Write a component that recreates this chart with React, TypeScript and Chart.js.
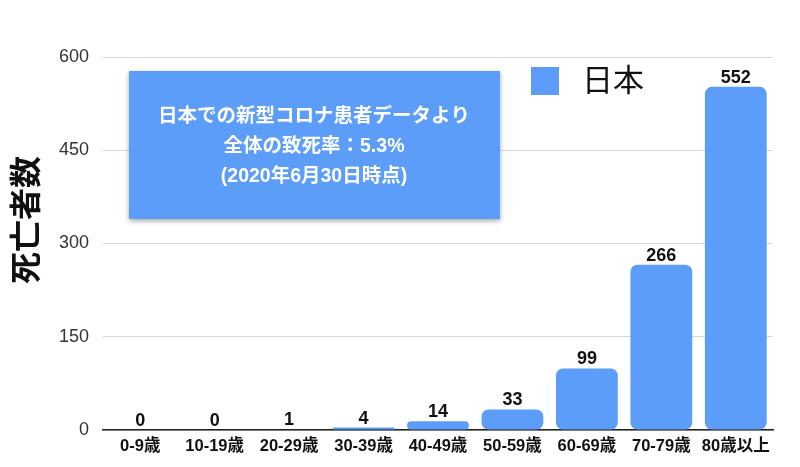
import React, { useEffect, useRef } from "react"
import { Chart, ChartConfiguration, Plugin, registerables } from "chart.js"

Chart.register(...registerables)

const categories = ["0-9歳", "10-19歳", "20-29歳", "30-39歳", "40-49歳", "50-59歳", "60-69歳", "70-79歳", "80歳以上"]
const deaths = [0, 0, 1, 4, 14, 33, 99, 266, 552]
const yTicks = [0, 150, 300, 450, 600]
const seriesName = "日本"
const yTitle = "死亡者数"
const noteLines = ["日本での新型コロナ患者データより", "全体の致死率：5.3%", "(2020年6月30日時点)"]

const BLUE = "#5b9df8"
const FONT = '"Liberation Sans", "Noto Sans CJK JP", sans-serif'

// value labels, legend, note box and y title
const extras: Plugin<"bar"> = {
	id: "extras",
	afterDatasetsDraw(chart) {
		const ctx = chart.ctx
		const meta = chart.getDatasetMeta(0)
		ctx.save()
		ctx.fillStyle = "#111"
		ctx.font = `bold 18px ${FONT}`
		ctx.textAlign = "center"
		ctx.textBaseline = "alphabetic"
		meta.data.forEach((bar, i) => {
			ctx.fillText(String(deaths[i]), bar.x, bar.y - 4)
		})

		// note box
		ctx.shadowColor = "rgba(0,0,0,0.35)"
		ctx.shadowBlur = 5
		ctx.shadowOffsetY = 2
		ctx.fillStyle = BLUE
		ctx.fillRect(129, 71, 371, 148)
		ctx.shadowColor = "transparent"
		ctx.fillStyle = "#fff"
		ctx.font = `bold 19.5px ${FONT}`
		ctx.textBaseline = "middle"
		noteLines.forEach((t, i) => ctx.fillText(t, 314, 117 + i * 30))

		// legend
		ctx.fillStyle = BLUE
		ctx.fillRect(531, 67, 28, 28)
		ctx.fillStyle = "#111"
		ctx.font = `31px ${FONT}`
		ctx.textAlign = "left"
		ctx.fillText(seriesName, 582, 82)

		// y title
		ctx.translate(28, 220)
		ctx.rotate(-Math.PI / 2)
		ctx.textAlign = "center"
		ctx.font = `bold 32px ${FONT}`
		ctx.fillText(yTitle, 0, 0)
		ctx.restore()
	},
}

export default function App() {
	const chartRef = useRef<HTMLCanvasElement | null>(null)
	const chartInstance = useRef<Chart | null>(null)

	useEffect(() => {
		document.body.style.margin = "0"
		if (chartInstance.current) chartInstance.current.destroy()
		if (!chartRef.current) return

		const config: ChartConfiguration<"bar"> = {
			type: "bar",
			data: {
				labels: categories,
				datasets: [
					{
						label: seriesName,
						data: deaths,
						backgroundColor: BLUE,
						borderRadius: 7,
						borderSkipped: false,
						barPercentage: 0.83,
						categoryPercentage: 1,
					},
				],
			},
			options: {
				animation: false,
				responsive: false,
				layout: { padding: { top: 57, right: 27, left: 0, bottom: 0 } },
				plugins: { legend: { display: false }, tooltip: { enabled: false } },
				scales: {
					x: {
						grid: { display: false, drawTicks: false },
						border: { color: "#222", width: 1.5 },
						ticks: { color: "#111", font: { family: FONT, size: 16.5, weight: "bold" }, padding: 7, maxRotation: 0, autoSkip: false },
						afterFit: (s) => { s.height = 37 },
					},
					y: {
						min: 0,
						max: 600,
						afterBuildTicks: (s) => { s.ticks = yTicks.map((v) => ({ value: v })) },
						grid: { color: "#d6d6d6", drawTicks: false },
						border: { display: false },
						ticks: { color: "#333", font: { family: FONT, size: 18 }, padding: 14 },
						afterFit: (s) => { s.width = 103 },
					},
				},
			},
			plugins: [extras],
		}

		chartInstance.current = new Chart(chartRef.current, config)
		return () => {
			if (chartInstance.current) {
				chartInstance.current.destroy()
				chartInstance.current = null
			}
		}
	}, [])

	return (
		<div style={{ width: 800, height: 467, background: "#fff" }}>
			<canvas ref={chartRef} width={800} height={467}></canvas>
		</div>
	)
}
